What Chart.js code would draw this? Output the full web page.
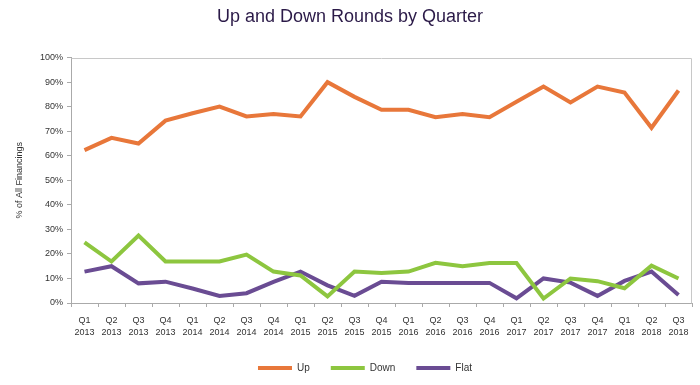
<!DOCTYPE html>
<html><head><meta charset="utf-8">
<script src="https://cdn.jsdelivr.net/npm/chart.js@4/dist/chart.umd.min.js"></script>
<style>html,body{margin:0;padding:0;background:#fff}#wrap{width:700px;height:385px}</style>
</head><body><div id="wrap"><canvas id="c" width="700" height="385"></canvas></div>
<script>
const quarters = ["Q1","Q2","Q3","Q4","Q1","Q2","Q3","Q4","Q1","Q2","Q3","Q4","Q1","Q2","Q3","Q4","Q1","Q2","Q3","Q4","Q1","Q2","Q3"];
const years = ["2013","2013","2013","2013","2014","2014","2014","2014","2015","2015","2015","2015","2016","2016","2016","2016","2017","2017","2017","2017","2018","2018","2018"];
const upValues = [62.3,67.3,65,74.3,77.3,80,76,77,76,90,84,78.7,78.7,75.7,77,75.7,82,88.2,81.7,88.2,85.8,71.4,86.6];
const downValues = [24.7,16.9,27.5,16.9,16.9,16.9,19.7,12.8,11.2,2.7,12.8,12.2,12.8,16.4,15,16.3,16.3,1.8,10,8.9,6,15.2,10];
const flatValues = [12.8,15,8,8.7,5.9,2.9,4,8.6,12.8,7.2,2.9,8.7,8.2,8.2,8.2,8.2,1.9,10,8.3,2.9,9,12.8,3.3];
const yTicks = [0,10,20,30,40,50,60,70,80,90,100];

const labels = quarters.map((q,i)=>[q, years[i]]);

const framePlugin = {
  id:'frame',
  afterLayout(chart){
    const l = chart.legend;
    if (l) { l.left += 15; l.right += 15; l.top += 3; l.bottom += 3; }
  },
  afterDraw(chart){
    const a = chart.chartArea, ctx = chart.ctx;
    ctx.save();
    ctx.strokeStyle = '#c8c8c8';
    ctx.lineWidth = 1;
    ctx.beginPath();
    ctx.moveTo(Math.round(a.left)+0.5, Math.round(a.top)+0.5);
    ctx.lineTo(Math.round(a.right)-0.5, Math.round(a.top)+0.5);
    ctx.lineTo(Math.round(a.right)-0.5, Math.round(a.bottom)+0.5);
    ctx.stroke();
    ctx.restore();
  }
};

const font = 'Liberation Sans';

new Chart(document.getElementById('c'), {
  type:'line',
  data:{
    labels,
    datasets:[
      {label:'Up', data:upValues, borderColor:'#e8773a', backgroundColor:'#e8773a', borderWidth:4, pointRadius:0, tension:0},
      {label:'Down', data:downValues, borderColor:'#8dc63f', backgroundColor:'#8dc63f', borderWidth:4, pointRadius:0, tension:0},
      {label:'Flat', data:flatValues, borderColor:'#6a4c93', backgroundColor:'#6a4c93', borderWidth:4, pointRadius:0, tension:0}
    ]
  },
  options:{
    responsive:false, animation:false, devicePixelRatio:1,
    layout:{padding:{left:8,right:8,top:0,bottom:5}},
    plugins:{
      title:{display:true, text:'Up and Down Rounds by Quarter', color:'#2b1a48',
        font:{family:font, size:18, weight:'normal'}, padding:{top:6,bottom:30}},
      legend:{position:'bottom', labels:{boxWidth:34, boxHeight:4, color:'#333', padding:21,
        font:{family:font, size:10},
        generateLabels(chart){
          return Chart.defaults.plugins.legend.labels.generateLabels(chart).map(it=>Object.assign(it,{lineWidth:0}));
        }}},
      tooltip:{enabled:false}
    },
    scales:{
      x:{offset:true,
        afterFit(s){ s.height = 36; },
        grid:{display:true, drawOnChartArea:false, offset:true, tickLength:4, color:'#aaa'},
        border:{color:'#aaa'},
        ticks:{color:'#333', font:{family:font, size:9, lineHeight:1.35}, maxRotation:0, autoSkip:false, padding:7}},
      y:{min:0, max:100,
        afterBuildTicks(s){ s.ticks = yTicks.map(v=>({value:v})); },
        afterFit(s){ s.width = 63; },
        title:{display:true, text:'% of All Financings', color:'#333', font:{family:font, size:9}, padding:{top:6,bottom:0}},
        grid:{display:true, drawOnChartArea:false, tickLength:4, color:'#aaa'},
        border:{color:'#aaa'},
        ticks:{color:'#333', font:{family:font, size:9}, padding:4, callback:v=>v+'%'}}
    }
  },
  plugins:[framePlugin]
});
</script></body></html>
